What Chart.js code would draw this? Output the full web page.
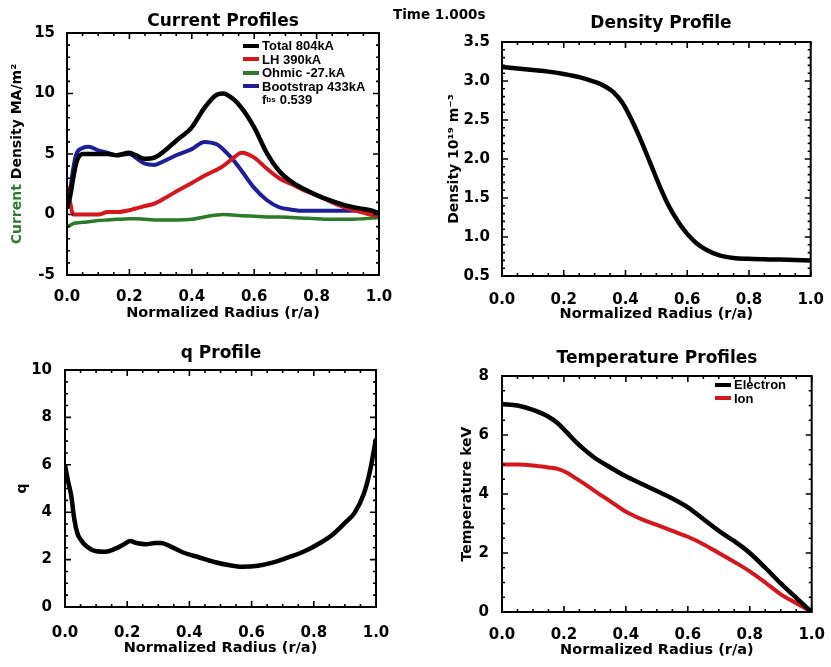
<!DOCTYPE html>
<html>
<head>
<meta charset="utf-8">
<title>Profiles</title>
<script src="https://cdn.jsdelivr.net/npm/chart.js@4.4.0/dist/chart.umd.min.js"></script>
<style>
  body { margin: 0; background: #fff; }
  #page { position: relative; width: 831px; height: 667px; overflow: hidden;
          font-family: "DejaVu Sans", sans-serif; font-weight: bold; color: #000; }
  .panel { position: absolute; }
  .title { position: absolute; transform: translate(-50%, -50%); font-size: 17px; white-space: nowrap; }
  .time { position: absolute; left: 393px; top: 6px; font-size: 13.5px; white-space: nowrap; }
  .legend { position: absolute; font-family: "Liberation Sans", Arial, sans-serif; font-size: 13px; line-height: 13.5px; }
  .legend .row { display: flex; align-items: center; white-space: nowrap; }
  .legend .swatch { display: inline-block; width: 16px; height: 4px; margin-right: 3px; }
  .legend sub { font-size: 8px; vertical-align: -4px; margin-right: 4px; }
</style>
</head>
<body>
<div id="page">
  <div class="panel" style="left:0;top:0"><canvas id="currentChart" width="415" height="330"></canvas></div>
  <div class="panel" style="left:420px;top:0"><canvas id="densityChart" width="411" height="330"></canvas></div>
  <div class="panel" style="left:0;top:330px"><canvas id="qChart" width="415" height="337"></canvas></div>
  <div class="panel" style="left:420px;top:330px"><canvas id="tempChart" width="411" height="337"></canvas></div>

  <div class="title" style="left:223px;top:20px">Current Profiles</div>
  <div class="title" style="left:661px;top:22px">Density Profile</div>
  <div class="title" style="left:221px;top:352px">q Profile</div>
  <div class="title" style="left:657px;top:357px">Temperature Profiles</div>
  <div class="time">Time 1.000s</div>

  <div class="legend" id="currentLegend" style="left:243px;top:39px"></div>
  <div class="legend" id="tempLegend" style="left:715px;top:378px"></div>
</div>

<script>
// current profiles (MA/m^2)
const radiusCurrent = [0, 0.01, 0.02, 0.03, 0.05, 0.07, 0.1, 0.13, 0.16, 0.2, 0.22, 0.25, 0.28, 0.31, 0.35, 0.4,
  0.44, 0.48, 0.5, 0.53, 0.56, 0.6, 0.64, 0.68, 0.72, 0.76, 0.8, 0.85, 0.9, 0.95, 0.98, 1.0];
const totalCurrent = [0.5, 1.5, 3.0, 4.3, 5.0, 5.0, 5.0, 5.0, 4.9, 5.1, 4.9, 4.6, 4.7, 5.2, 6.1, 7.2,
  8.8, 9.9, 10.0, 9.6, 8.8, 7.2, 5.1, 3.6, 2.7, 2.1, 1.6, 1.1, 0.7, 0.45, 0.3, 0.1];
const lhCurrent = [2.3, 1.0, 0.0, 0.0, 0.0, 0.0, 0.0, 0.2, 0.2, 0.35, 0.5, 0.7, 0.9, 1.3, 1.9, 2.6,
  3.2, 3.7, 4.0, 4.6, 5.1, 4.7, 3.8, 3.0, 2.5, 2.0, 1.6, 1.0, 0.5, 0.15, -0.05, -0.1];
const ohmicCurrent = [-1.0, -0.9, -0.75, -0.7, -0.65, -0.6, -0.5, -0.45, -0.4, -0.35, -0.35, -0.4, -0.45, -0.45, -0.45, -0.4,
  -0.2, -0.05, 0.0, -0.05, -0.1, -0.15, -0.2, -0.2, -0.25, -0.3, -0.35, -0.4, -0.4, -0.35, -0.3, -0.25];
const bootstrapCurrent = [0.5, 2.0, 3.8, 5.0, 5.5, 5.6, 5.3, 5.1, 4.9, 5.0, 4.7, 4.2, 4.1, 4.4, 4.9, 5.4,
  6.0, 5.8, 5.4, 4.6, 3.6, 2.2, 1.2, 0.6, 0.4, 0.3, 0.3, 0.3, 0.3, 0.35, 0.3, 0.0];
const currentLabels = ["Total 804kA", "LH 390kA", "Ohmic -27.kA", "Bootstrap 433kA"];
const bootstrapFraction = "0.539";

// density (10^19 m^-3)
const radiusDensity = [0, 0.05, 0.1, 0.15, 0.2, 0.25, 0.3, 0.33, 0.36, 0.39, 0.42, 0.45, 0.48, 0.51,
  0.54, 0.57, 0.6, 0.63, 0.66, 0.7, 0.75, 0.8, 0.9, 1.0];
const density = [3.18, 3.16, 3.14, 3.12, 3.09, 3.05, 2.99, 2.94, 2.86, 2.72, 2.50, 2.24, 1.95, 1.66,
  1.40, 1.20, 1.04, 0.92, 0.84, 0.77, 0.73, 0.72, 0.71, 0.70];

// safety factor
const radiusQ = [0, 0.01, 0.02, 0.03, 0.04, 0.05, 0.07, 0.1, 0.13, 0.16, 0.19, 0.21, 0.23, 0.26, 0.29, 0.31,
  0.34, 0.38, 0.43, 0.48, 0.53, 0.57, 0.62, 0.67, 0.72, 0.77, 0.82, 0.86, 0.9, 0.93, 0.96, 0.98, 1.0];
const qProfile = [6.0, 5.3, 4.7, 3.7, 3.1, 2.85, 2.55, 2.35, 2.33, 2.45, 2.65, 2.78, 2.7, 2.65, 2.7, 2.7,
  2.55, 2.3, 2.1, 1.9, 1.76, 1.7, 1.74, 1.88, 2.1, 2.35, 2.7, 3.05, 3.55, 3.95, 4.75, 5.7, 7.1];

// temperatures (keV)
const radiusTemp = [0, 0.05, 0.1, 0.15, 0.18, 0.21, 0.24, 0.27, 0.3, 0.35, 0.4, 0.45, 0.5, 0.55,
  0.6, 0.65, 0.7, 0.75, 0.8, 0.85, 0.9, 0.95, 1.0];
const electronTemp = [7.05, 7.0, 6.85, 6.62, 6.4, 6.08, 5.75, 5.47, 5.22, 4.9, 4.6, 4.35, 4.1, 3.85,
  3.55, 3.15, 2.75, 2.4, 2.0, 1.5, 0.97, 0.48, 0.0];
const ionTemp = [5.0, 5.0, 4.97, 4.9, 4.85, 4.72, 4.52, 4.32, 4.1, 3.75, 3.4, 3.15, 2.95, 2.75,
  2.55, 2.3, 2.0, 1.7, 1.38, 1.0, 0.6, 0.3, 0.0];
const tempLabels = ["Electron", "Ion"];

const BLACK = "#000000", RED = "#d5161c", GREEN = "#2b7b2b", BLUE = "#1e2096";

Chart.defaults.font.family = "'DejaVu Sans', sans-serif";
Chart.defaults.font.weight = "bold";
Chart.defaults.color = "#000";
Chart.defaults.animation = false;

function points(xs, ys) {
  return xs.map((x, i) => ({ x: x, y: ys[i] }));
}

function line(label, xs, ys, color, width) {
  return {
    label: label,
    data: points(xs, ys),
    borderColor: color,
    backgroundColor: color,
    borderWidth: width || 4,
    pointRadius: 0,
    cubicInterpolationMode: "monotone",
    fill: false
  };
}

// box around the plot with IDL style inward ticks on all four sides
const frameTicks = {
  id: "frameTicks",
  afterDatasetsDraw(chart, args, opts) {
    const { ctx, chartArea: a, scales } = chart;
    ctx.save();
    ctx.strokeStyle = "#000";
    ctx.lineWidth = 2;
    ctx.strokeRect(a.left, a.top, a.right - a.left, a.bottom - a.top);
    ctx.lineWidth = 1.6;

    const drawTicks = (scale, minor, horizontal) => {
      const majors = scale.ticks.map(t => t.value);
      const n = Math.round((scale.max - scale.min) / minor);
      for (let i = 0; i <= n; i++) {
        const v = scale.min + i * minor;
        const isMajor = majors.some(m => Math.abs(m - v) < minor / 10);
        const len = isMajor ? 6 : 3;
        const p = scale.getPixelForValue(v);
        ctx.beginPath();
        if (horizontal) {
          ctx.moveTo(p, a.bottom); ctx.lineTo(p, a.bottom - len);
          ctx.moveTo(p, a.top); ctx.lineTo(p, a.top + len);
        } else {
          ctx.moveTo(a.left, p); ctx.lineTo(a.left + len, p);
          ctx.moveTo(a.right, p); ctx.lineTo(a.right - len, p);
        }
        ctx.stroke();
      }
    };
    drawTicks(scales.x, opts.xMinor, true);
    drawTicks(scales.y, opts.yMinor, false);
    ctx.restore();
  }
};

// y title drawn in several colours
const splitTitle = {
  id: "splitTitle",
  afterDraw(chart, args, opts) {
    if (!opts.parts) return;
    const { ctx, chartArea: a } = chart;
    ctx.save();
    ctx.font = "bold 14px 'DejaVu Sans', sans-serif";
    ctx.textBaseline = "middle";
    const total = opts.parts.reduce((s, p) => s + ctx.measureText(p.text).width, 0);
    ctx.translate(opts.x, (a.top + a.bottom) / 2);
    ctx.rotate(-Math.PI / 2);
    let pos = -total / 2;
    opts.parts.forEach(p => {
      ctx.fillStyle = p.color;
      ctx.fillText(p.text, pos, 0);
      pos += ctx.measureText(p.text).width;
    });
    ctx.restore();
  }
};

function makeChart(id, datasets, cfg) {
  const c = document.getElementById(id);
  return new Chart(c, {
    type: "line",
    data: { datasets: datasets },
    options: {
      responsive: false,
      devicePixelRatio: 1,
      layout: { padding: { left: 0, top: cfg.top, right: c.width - cfg.right, bottom: 0 } },
      plugins: {
        legend: { display: false },
        tooltip: { enabled: false },
        frameTicks: { xMinor: 0.05, yMinor: cfg.yMinor },
        splitTitle: cfg.splitTitle || {}
      },
      scales: {
        x: {
          type: "linear",
          min: 0, max: 1,
          grid: { display: false },
          border: { display: false },
          ticks: {
            stepSize: 0.2, maxRotation: 0, autoSkip: false, padding: cfg.xTickPad,
            font: { size: 15 },
            callback: v => v.toFixed(1)
          },
          title: {
            display: true, text: "Normalized Radius (r/a)",
            font: { size: 14.5, lineHeight: 1.2 },
            padding: { top: 0, bottom: cfg.xTitlePad }
          },
          afterFit: s => { s.height = c.height - cfg.bottom; }
        },
        y: {
          type: "linear",
          min: cfg.yMin, max: cfg.yMax,
          grid: { display: false },
          border: { display: false },
          ticks: {
            stepSize: cfg.yStep, padding: cfg.yTickPad, font: { size: 15 },
            callback: cfg.yFormat || (v => String(v))
          },
          title: {
            display: !!cfg.yTitle, text: cfg.yTitle || "",
            font: { size: 14, lineHeight: 1.2 },
            padding: { top: cfg.yTitlePad || 0, bottom: 0 }
          },
          afterFit: s => { s.width = cfg.left; }
        }
      }
    },
    plugins: [frameTicks, splitTitle]
  });
}

const currentChart = makeChart("currentChart", [
  line(currentLabels[0], radiusCurrent, totalCurrent, BLACK, 4.5),
  line(currentLabels[1], radiusCurrent, lhCurrent, RED, 4),
  line(currentLabels[2], radiusCurrent, ohmicCurrent, GREEN, 3.5),
  line(currentLabels[3], radiusCurrent, bootstrapCurrent, BLUE, 4)
], {
  left: 67, right: 379, top: 33, bottom: 275,
  yMin: -5, yMax: 15, yStep: 5, yMinor: 1, yTickPad: 4,
  xTickPad: 5, xTitlePad: 8.5,
  splitTitle: { x: 17, parts: [{ text: "Current ", color: GREEN }, { text: "Density MA/m\u00B2", color: BLACK }] }
});

makeChart("densityChart", [line("Density", radiusDensity, density, BLACK, 4.5)], {
  left: 82, right: 396, top: 42, bottom: 276,
  yMin: 0.5, yMax: 3.5, yStep: 0.5, yMinor: 0.1, yTickPad: 4,
  yFormat: v => v.toFixed(1),
  yTitle: "Density 10\u00B9\u2079 m\u207B\u00B3", yTitlePad: 25.6,
  xTickPad: 7, xTitlePad: 6.6
});

makeChart("qChart", [line("q", radiusQ, qProfile, BLACK, 4.5)], {
  left: 65, right: 376, top: 40, bottom: 277,
  yMin: 0, yMax: 10, yStep: 2, yMinor: 0.5, yTickPad: 5,
  yTitle: "q", yTitlePad: 13.6,
  xTickPad: 9, xTitlePad: 9.6
});

const tempChart = makeChart("tempChart", [
  line(tempLabels[0], radiusTemp, electronTemp, BLACK, 4.5),
  line(tempLabels[1], radiusTemp, ionTemp, RED, 4)
], {
  left: 82, right: 393, top: 46, bottom: 282,
  yMin: 0, yMax: 8, yStep: 2, yMinor: 0.5, yTickPad: 5,
  yTitle: "Temperature keV", yTitlePad: 38.6,
  xTickPad: 6, xTitlePad: 7.6
});

// legends built from the chart datasets
function fillLegend(elId, chart) {
  const el = document.getElementById(elId);
  chart.data.datasets.forEach(ds => {
    const row = document.createElement("div");
    row.className = "row";
    const sw = document.createElement("span");
    sw.className = "swatch";
    sw.style.background = ds.borderColor;
    row.appendChild(sw);
    row.appendChild(document.createTextNode(ds.label));
    el.appendChild(row);
  });
  return el;
}

const curLegend = fillLegend("currentLegend", currentChart);
const fRow = document.createElement("div");
fRow.className = "row";
fRow.style.paddingLeft = "19px";
fRow.innerHTML = "f<sub>bs</sub>" + bootstrapFraction;
curLegend.appendChild(fRow);

fillLegend("tempLegend", tempChart);
</script>
</body>
</html>
